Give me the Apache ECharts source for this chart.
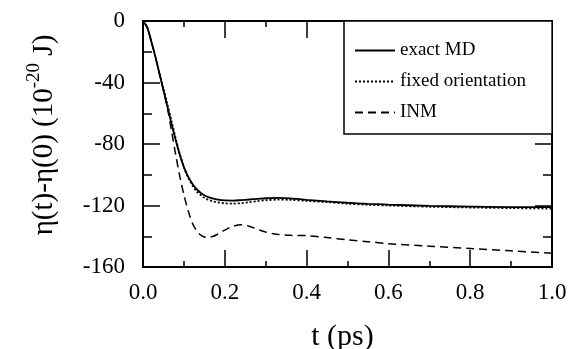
<!DOCTYPE html>
<html>
<head>
<meta charset="utf-8">
<script src="https://cdn.jsdelivr.net/npm/echarts@6/dist/echarts.min.js"></script>
<style>html,body{margin:0;padding:0;background:#fff;}#c{width:569px;height:349px;}</style>
</head>
<body>
<div id="c"></div>
<script>
const t = [0, 0.01, 0.02, 0.03, 0.04, 0.05, 0.06, 0.07, 0.08, 0.09, 0.10, 0.11, 0.12, 0.13, 0.14, 0.15, 0.16, 0.17, 0.18, 0.20, 0.22, 0.24, 0.26, 0.28, 0.30, 0.33, 0.36, 0.40, 0.45, 0.50, 0.55, 0.60, 0.70, 0.80, 0.90, 1.00];
const exactMD = [0, -4, -13, -23, -34, -45, -56, -67, -77.5, -87, -95, -101, -105.5, -109, -111.5, -113.3, -114.5, -115.3, -116, -116.7, -116.8, -116.5, -116.1, -115.7, -115.3, -115, -115.3, -116.3, -117.3, -118.2, -118.9, -119.4, -120.2, -120.7, -121, -121];
const fixedOrientation = [0, -4, -13, -23, -33.5, -44, -54.5, -65.5, -76.5, -86.5, -95, -101.5, -106.5, -110.5, -113, -115, -116.3, -117.2, -117.8, -118.6, -118.8, -118.5, -117.8, -117.2, -116.6, -116.2, -116.3, -117, -117.8, -118.8, -119.5, -120, -120.8, -121.3, -121.7, -122];
const inm = [0, -4, -13, -23, -34, -45, -57, -72, -87, -101, -113, -123, -131, -136, -139, -140.5, -140.8, -140.2, -139, -136, -133.5, -132.5, -133.5, -135.5, -137.3, -138.8, -139.4, -139.6, -140.8, -142.3, -143.5, -144.8, -146.5, -148, -149.5, -151];
const seriesNames = ['exact MD', 'fixed orientation', 'INM'];
const yLabel = 'η(t)-η(0) (10';
const yLabelSup = '-20';
const yLabelEnd = 'J)';
const xLabel = 't (ps)';

const FF = 'Liberation Serif';
const pts = arr => t.map((x, i) => [x, arr[i]]);
const tickStyle = {color: '#000', width: 1.5};

const xBase = {
  type: 'value', min: 0, max: 1, interval: 0.2,
  axisLine: {show: true, onZero: false, lineStyle: {color: '#000', width: 2}},
  axisTick: {show: true, inside: true, length: 17, lineStyle: tickStyle},
  minorTick: {show: true, splitNumber: 2, length: 6, lineStyle: tickStyle},
  splitLine: {show: false}
};
const yBase = {
  type: 'value', min: -160, max: 0, interval: 40,
  axisLine: {show: true, onZero: false, lineStyle: {color: '#000', width: 2}},
  axisTick: {show: true, inside: true, length: 17, lineStyle: tickStyle},
  minorTick: {show: true, splitNumber: 2, length: 9, lineStyle: tickStyle},
  splitLine: {show: false}
};

const chart = echarts.init(document.getElementById('c'), null, {renderer: 'canvas'});
chart.setOption({
  animation: false,
  backgroundColor: '#fff',
  grid: {left: 143, right: 17, top: 21, bottom: 82, containLabel: false, outerBoundsMode: 'none'},
  xAxis: [
    Object.assign({}, xBase, {
      position: 'bottom',
      axisLabel: {show: true, formatter: v => v.toFixed(1), fontSize: 23, color: '#000', fontFamily: FF, margin: 14},
      name: xLabel, nameLocation: 'middle', nameGap: 55,
      nameTextStyle: {fontSize: 30, color: '#000', fontFamily: FF, padding: [0, 10, 0, 0]}
    }),
    Object.assign({}, xBase, {position: 'top', axisLabel: {show: false}})
  ],
  yAxis: [
    Object.assign({}, yBase, {
      position: 'left',
      axisLabel: {show: true, fontSize: 23, color: '#000', fontFamily: FF, margin: 18},
      name: '{m|' + yLabel + '}{s|' + yLabelSup + '}{m| ' + yLabelEnd + '}',
      nameLocation: 'middle', nameGap: 84,
      nameTextStyle: {
        color: '#000', fontFamily: FF, padding: [0, 0, 0, 18],
        rich: {
          m: {fontSize: 29, fontFamily: FF, color: '#000', lineHeight: 34, verticalAlign: 'bottom'},
          s: {fontSize: 19, fontFamily: FF, color: '#000', verticalAlign: 'top', lineHeight: 34}
        }
      }
    }),
    Object.assign({}, yBase, {position: 'right', axisLabel: {show: false}})
  ],
  legend: {
    orient: 'vertical', left: 344, top: 21,
    itemWidth: 40, itemHeight: 14, itemGap: 12,
    padding: [20, 26, 12, 10],
    borderColor: '#000', borderWidth: 1.5, borderRadius: 0,
    backgroundColor: '#fff',
    itemStyle: {opacity: 0},
    textStyle: {fontSize: 19, color: '#000', fontFamily: FF},
    data: seriesNames
  },
  series: [
    {name: seriesNames[0], type: 'line', data: pts(exactMD), symbol: 'none', smooth: 0.3,
     lineStyle: {color: '#000', width: 1.8, type: 'solid'}, itemStyle: {color: '#000'}},
    {name: seriesNames[1], type: 'line', data: pts(fixedOrientation), symbol: 'none', smooth: 0.3,
     lineStyle: {color: '#000', width: 1.8, type: [2, 2]}, itemStyle: {color: '#000'}},
    {name: seriesNames[2], type: 'line', data: pts(inm), symbol: 'none', smooth: 0.3,
     lineStyle: {color: '#000', width: 1.5, type: [8, 5]}, itemStyle: {color: '#000'}}
  ]
});
</script>
</body>
</html>
